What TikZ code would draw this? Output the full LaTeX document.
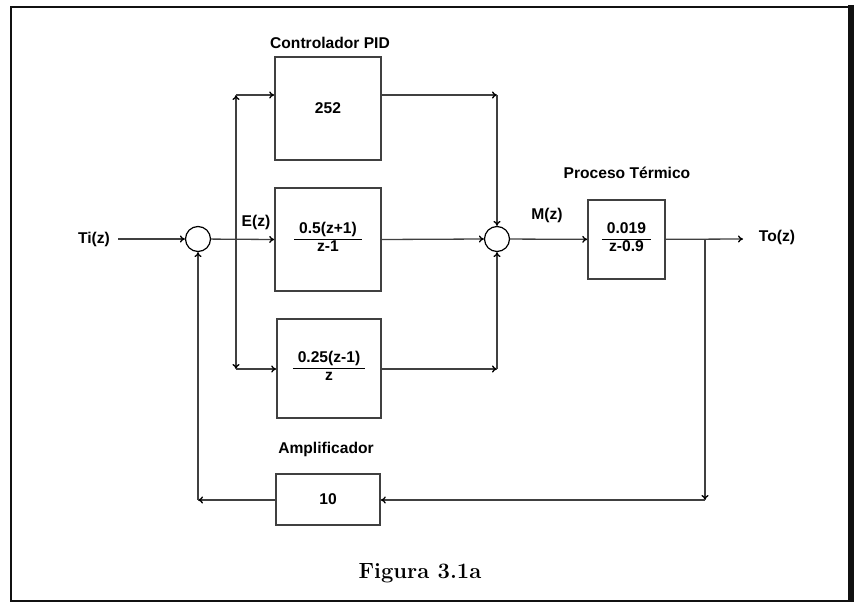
\documentclass[tikz,border=0pt]{standalone}
\usepackage{fontspec}
\setsansfont{Liberation Sans}
\usetikzlibrary{arrows.meta,positioning,calc}
\definecolor{pidline}{HTML}{404040}
\definecolor{pidframe}{HTML}{111111}
\newcommand{\ztf}[2]{{\renewcommand{\arraystretch}{0.95}\setlength{\arrayrulewidth}{1.6pt}\setlength{\tabcolsep}{5pt}\begin{tabular}{c}#1\\\hline #2\end{tabular}}}

\begin{document}
\begin{tikzpicture}[
  x=1pt,y=-1pt,
  font=\sffamily\bfseries\fontsize{15.6}{17.5}\selectfont,
  blk/.style={draw=pidline,line width=1.6pt,inner sep=0pt},
  sumnode/.style={circle,draw=black,line width=1.2pt,minimum size=25pt,inner sep=0pt},
  sig/.style={draw=pidline,line width=1.3pt,-{To[length=5pt,width=7pt,color=black]}},
  lbl/.style={inner sep=0pt}
]
\useasboundingbox (0,0) rectangle (854,602);
\draw[pidframe,line width=2.5pt] (10.8,6.8) rectangle (849,600.8);
\fill[pidframe] (848,5.5) rectangle (854,602);
% bloques
\node[blk,minimum width=106pt,minimum height=103pt] (kp) at (328,108.5) {252};
\node[blk,minimum width=106pt,minimum height=103pt] (ki) at (328,239.5) {\ztf{0.5(z+1)}{z-1}};
\node[blk,minimum width=104pt,minimum height=99pt] (kd) at (329,368.5) {\ztf{0.25(z-1)}{z}};
\node[blk,minimum width=77pt,minimum height=79pt] (proc) at (626.5,239.5) {\ztf{0.019}{z-0.9}};
\node[blk,minimum width=104pt,minimum height=51pt] (amp) at (328,499.5) {10};
\node[sumnode] (sum1) at (198,239) {};
\node[sumnode] (sum2) at (497,239) {};
% textos
\node[lbl] (ti) at (94,239) {Ti(z)};
\node[lbl] (ez) at (256,222) {E(z)};
\node[lbl] (mz) at (547,215) {M(z)};
\node[lbl] (to) at (777,237) {To(z)};
\node[lbl] (tpid) at (330,43) {Controlador PID};
\node[lbl] (tproc) at (627,173) {Proceso Térmico};
\node[lbl] (tamp) at (326,449) {Amplificador};
\node[lbl,font=\rmfamily\bfseries\fontsize{22}{26}\selectfont] (fig) at (420,573) {Figura 3.1a};
% puntos de union
\coordinate (tin) at (118,239);
\coordinate (br) at (236,239);
\coordinate (brup) at (236,95);
\coordinate (brdn) at (236,369);
\coordinate (jup) at (497,95);
\coordinate (jdn) at (497,369);
\coordinate (tout) at (743,239);
\coordinate (fbr) at (705,239);
\coordinate (fdn) at (705,500);
\coordinate (fl) at (198,500);
% senales
\draw[sig] (tin) -- (sum1);
\draw[sig] (sum1) -- (ki.west);
\draw[sig] (br) -- (brup);
\draw[sig] (brup) -- (brup -| kp.west);
\draw[sig] (br) -- (brdn);
\draw[sig] (brdn) -- (brdn -| kd.west);
\draw[sig] (kp.east |- jup) -- (jup);
\draw[sig] (jup) -- (sum2.north);
\draw[sig] (ki.east) -- (sum2.west);
\draw[sig] (kd.east |- jdn) -- (jdn);
\draw[sig] (jdn) -- (sum2.south);
\draw[sig] (sum2) -- (proc);
\draw[sig] (proc) -- (tout);
\draw[sig] (fbr) -- (fdn);
\draw[sig] (fdn) -- (fdn -| amp.east);
\draw[sig] (amp.west |- fl) -- (fl);
\draw[sig] (fl) -- (sum1.south);
\end{tikzpicture}
\end{document}
